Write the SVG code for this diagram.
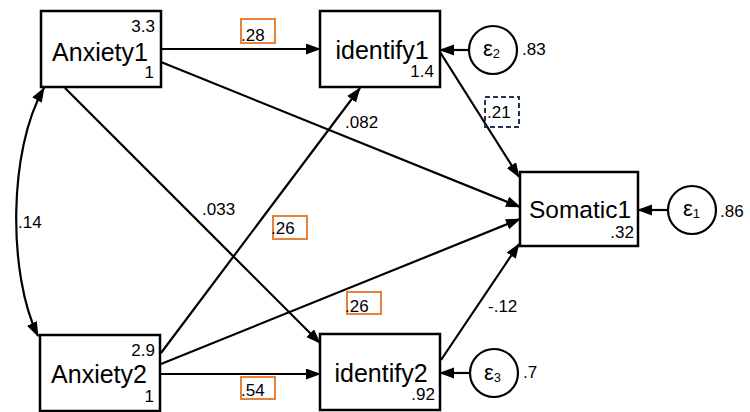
<svg xmlns="http://www.w3.org/2000/svg" width="750" height="412" viewBox="0 0 750 412">
<style>
  .box { fill: #fff; stroke: #000; stroke-width: 2.5; }
  .circ { fill: #fff; stroke: #000; stroke-width: 2.2; }
  .edge { stroke: #000; stroke-width: 2.2; fill: none; marker-end: url(#arr); }
  .main { font-family: "Liberation Sans", Arial, sans-serif; font-size: 25px; fill: #000; text-anchor: middle; }
  .num { font-family: "Liberation Sans", Arial, sans-serif; font-size: 17px; fill: #000; }
  .end { text-anchor: end; }
  .eps { font-family: "Liberation Sans", Arial, sans-serif; font-size: 22px; fill: #000; }
  .sub { font-size: 13px; }
  .obox { fill: none; stroke: #E8813A; stroke-width: 2; }
  .dbox { fill: none; stroke: #1F3553; stroke-width: 2; stroke-dasharray: 5 3; }
</style>
<defs>
  <marker id="arr" markerUnits="userSpaceOnUse" markerWidth="16" markerHeight="12" refX="14" refY="5.5" orient="auto-start-reverse" viewBox="0 0 16 12">
    <path d="M0,0 L15,5.5 L0,11 z" fill="#000"/>
  </marker>
</defs>

<g id="connectors">
  <line class="edge" x1="161" y1="49" x2="320" y2="49"/>
  <line class="edge" x1="161" y1="62" x2="520" y2="207"/>
  <line class="edge" x1="65" y1="88" x2="320" y2="343"/>
  <line class="edge" x1="161" y1="353" x2="360" y2="88"/>
  <line class="edge" x1="161" y1="364" x2="520" y2="219"/>
  <line class="edge" x1="161" y1="374" x2="320" y2="374"/>
  <line class="edge" x1="440" y1="52" x2="519" y2="177"/>
  <line class="edge" x1="441" y1="360" x2="519" y2="244"/>
  <line class="edge" x1="469" y1="50" x2="440" y2="50"/>
  <line class="edge" x1="668" y1="210" x2="638" y2="210"/>
  <line class="edge" x1="470" y1="373" x2="440" y2="373"/>
  <path class="edge" style="marker-start: url(#arr);" d="M44,88 C8,150 8,275 38,336"/>
</g>

<g id="edge-labels">
  <rect class="obox" x="241" y="19" width="34" height="24"/>
  <text class="num" x="241" y="41">.28</text>
  <text class="num" x="345" y="128">.082</text>
  <text class="num" x="202" y="215">.033</text>
  <rect class="obox" x="273" y="216" width="34" height="23"/>
  <text class="num" x="271" y="234">.26</text>
  <rect class="obox" x="347" y="292" width="34" height="22"/>
  <text class="num" x="345" y="312">.26</text>
  <text class="num" x="488" y="312">-.12</text>
  <rect class="obox" x="241" y="377" width="34" height="22"/>
  <text class="num" x="241" y="396">.54</text>
  <text class="num" x="18" y="228">.14</text>
  <rect class="dbox" x="485" y="97" width="34" height="30"/>
  <text class="num" x="487" y="118">.21</text>
</g>

<g id="Anxiety1">
  <rect class="box" x="41" y="11" width="120" height="76"/>
  <text class="main" x="100" y="61">Anxiety1</text>
  <text class="num end" x="155" y="32">3.3</text>
  <text class="num end" x="154" y="78">1</text>
</g>

<g id="identify1">
  <rect class="box" x="320" y="11" width="120" height="76"/>
  <text class="main" x="382" y="59">identify1</text>
  <text class="num end" x="434" y="77">1.4</text>
</g>

<g id="Somatic1">
  <rect class="box" x="520" y="172" width="118" height="74"/>
  <text class="main" x="580" y="218" style="font-size:24.5px">Somatic1</text>
  <text class="num end" x="634" y="238">.32</text>
</g>

<g id="Anxiety2">
  <rect class="box" x="40" y="335" width="120" height="76"/>
  <text class="main" x="99" y="383">Anxiety2</text>
  <text class="num end" x="155" y="356">2.9</text>
  <text class="num end" x="154" y="402">1</text>
</g>

<g id="identify2">
  <rect class="box" x="320" y="334" width="120" height="76"/>
  <text class="main" x="381" y="382">identify2</text>
  <text class="num end" x="435" y="400">.92</text>
</g>

<g id="e2">
  <circle class="circ" cx="493" cy="50" r="24"/>
  <text class="eps" x="483" y="56">ε<tspan class="sub" dy="2">2</tspan></text>
  <text class="num" x="522" y="55">.83</text>
</g>

<g id="e1">
  <circle class="circ" cx="692" cy="210" r="24"/>
  <text class="eps" x="683" y="216">ε<tspan class="sub" dy="2">1</tspan></text>
  <text class="num" x="720" y="217">.86</text>
</g>

<g id="e3">
  <circle class="circ" cx="494" cy="373" r="24"/>
  <text class="eps" x="484" y="380">ε<tspan class="sub" dy="2">3</tspan></text>
  <text class="num" x="523" y="378">.7</text>
</g>
</svg>
